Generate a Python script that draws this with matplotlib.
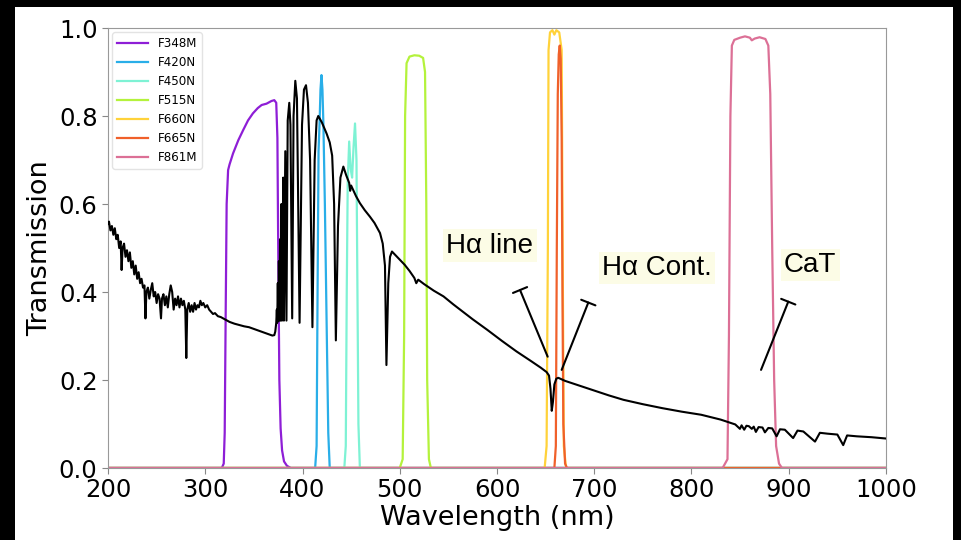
import matplotlib.pyplot as plt
from matplotlib.patches import Rectangle

# espectro (preto), em trechos
uv_wl = [200, 201, 202.5, 204, 205.5, 207, 208.5, 210, 211.5, 213, 214, 215, 216.5, 218, 219.5, 221,
         222.5, 224, 225.5, 227, 228.5, 230, 231.5, 233, 234.5, 236, 237.5, 238.5, 239.5, 241, 242.5,
         244, 245.5, 247, 248.5, 250, 251.5, 253, 254.5, 255.5, 257, 258.5, 260, 261.5, 263, 264.5,
         266, 267.5, 269, 270.5, 272, 273.5, 275, 276.5, 278, 279.5, 280.5, 281.5, 283, 284.5, 286,
         287.5, 289, 290.5, 292, 293.5, 295, 296.5, 298, 300, 302, 304, 306, 308, 310, 313, 316, 320,
         325, 330, 335, 340, 345, 350, 355, 360, 365, 369, 371]
uv_t = [0.555, 0.56, 0.54, 0.55, 0.53, 0.545, 0.52, 0.53, 0.5, 0.515, 0.45, 0.5, 0.51, 0.48, 0.495, 0.47,
        0.49, 0.455, 0.47, 0.44, 0.46, 0.43, 0.445, 0.42, 0.43, 0.41, 0.415, 0.34, 0.4, 0.41, 0.385,
        0.405, 0.42, 0.39, 0.4, 0.375, 0.395, 0.385, 0.34, 0.385, 0.395, 0.37, 0.39, 0.365, 0.395, 0.415,
        0.40, 0.36, 0.385, 0.37, 0.39, 0.365, 0.385, 0.37, 0.38, 0.36, 0.25, 0.36, 0.375, 0.355, 0.37,
        0.355, 0.375, 0.36, 0.37, 0.365, 0.38, 0.37, 0.375, 0.365, 0.37, 0.36, 0.355, 0.35, 0.352, 0.345, 0.343, 0.338,
        0.332, 0.328, 0.325, 0.322, 0.32, 0.316, 0.312, 0.308, 0.304, 0.301, 0.302]

balmer_wl = [372, 373, 373.6, 374, 374.6, 375.1, 375.7, 376.2, 376.9, 377.4, 378.3, 378.9, 380.2, 380.9,
             382.3, 383.5, 384.8, 386.4, 387.6, 389.4, 390.8, 392.6, 394.3, 397.0, 399.5, 401.5, 403.6,
             405.6, 407.8, 410.2, 412.5, 414.5, 416.2, 420, 424.8, 428, 430.5, 432.5, 434.3, 436.5, 439,
             442, 445, 448, 449, 450, 455, 459, 464, 469.4, 474, 479.7, 482.5, 484.8, 486.3, 488.2, 490]
balmer_t = [0.31, 0.33, 0.36, 0.33, 0.42, 0.335, 0.47, 0.335, 0.52, 0.335, 0.6, 0.335, 0.66, 0.335,
            0.72, 0.335, 0.79, 0.83, 0.78, 0.34, 0.8, 0.88, 0.84, 0.33, 0.78, 0.86, 0.87,
            0.83, 0.7, 0.32, 0.7, 0.79, 0.80, 0.785, 0.76, 0.74, 0.71, 0.6, 0.29, 0.55, 0.66,
            0.685, 0.665, 0.648, 0.63, 0.642, 0.618, 0.602, 0.586, 0.571, 0.557, 0.534, 0.51, 0.46, 0.234, 0.42, 0.48]

vis_wl = [492, 495, 500, 505, 510, 515, 517, 519, 525, 535, 545, 555, 565, 575, 590, 605, 620, 635, 645,
          651, 653.5, 655, 656.3, 657.5, 659, 661, 663, 670, 685, 700, 715, 730, 750, 770, 790, 810, 830]
vis_t = [0.492, 0.485, 0.473, 0.462, 0.448, 0.432, 0.42, 0.428, 0.418, 0.403, 0.39, 0.372, 0.355, 0.338, 0.314, 0.289, 0.265, 0.243, 0.228,
         0.218, 0.21, 0.18, 0.13, 0.15, 0.19, 0.203, 0.205, 0.198, 0.187, 0.176, 0.165, 0.155, 0.145, 0.136, 0.128, 0.121, 0.11]

ir_wl = [845, 849.8, 851.5, 854.2, 856.5, 859, 862, 864, 866.2, 869, 873, 875.5, 879, 883, 887.5,
         891, 896, 904.5, 909, 915, 927, 932, 940, 950, 956, 960, 970, 985, 1000]
ir_t = [0.099, 0.089, 0.097, 0.087, 0.096, 0.095, 0.089, 0.094, 0.082, 0.093, 0.092, 0.081, 0.091, 0.09, 0.072,
        0.088, 0.087, 0.068, 0.085, 0.083, 0.06, 0.08, 0.078, 0.076, 0.052, 0.074, 0.072, 0.07, 0.067]

spec_wl = uv_wl + balmer_wl + vis_wl + ir_wl
spec_t = uv_t + balmer_t + vis_t + ir_t

# filtros
filtros = ['F348M', 'F420N', 'F450N', 'F515N', 'F660N', 'F665N', 'F861M']
cores = ['#8E1ED6', '#29AEE8', '#7EF2D4', '#B4F23C', '#FFD23A', '#F0602A', '#DC7096']

f348_wl = [200, 317, 319, 320, 321, 322, 323.5, 325, 328.6, 334, 339, 344, 349, 354, 358, 363, 368, 371,
           373, 374.2, 375.2, 376.2, 377.5, 379, 381, 384, 388, 1000]
f348_t = [0, 0, 0.01, 0.08, 0.35, 0.6, 0.677, 0.69, 0.715, 0.745, 0.768, 0.79, 0.806, 0.818, 0.825, 0.828,
          0.834, 0.836, 0.83, 0.75, 0.45, 0.2, 0.09, 0.04, 0.015, 0.005, 0, 0]
f420_wl = [200, 413, 414.5, 415.5, 416.5, 417.5, 418.5, 419.5, 420.5, 421.5, 423, 425, 426.5, 428, 1000]
f420_t = [0, 0, 0.05, 0.4, 0.72, 0.78, 0.86, 0.893, 0.86, 0.78, 0.6, 0.3, 0.08, 0, 0]
f450_wl = [200, 443, 444.5, 445.5, 446.5, 448, 449.5, 451, 452.5, 454, 455.5, 456.5, 457.5, 459, 1000]
f450_t = [0, 0, 0.05, 0.4, 0.65, 0.742, 0.68, 0.66, 0.73, 0.783, 0.7, 0.4, 0.1, 0, 0]
f515_wl = [200, 500, 503, 504.5, 505.5, 507, 510, 515, 520, 524, 526, 527.3, 528.2, 530, 532, 1000]
f515_t = [0, 0, 0.02, 0.3, 0.8, 0.92, 0.935, 0.938, 0.937, 0.932, 0.9, 0.6, 0.2, 0.02, 0, 0]
f660_wl = [200, 649, 651, 652.3, 653, 654.5, 657, 659, 661, 664, 666.5, 667.5, 668.7, 671, 1000]
f660_t = [0, 0, 0.05, 0.5, 0.95, 0.99, 0.995, 0.985, 0.995, 0.99, 0.95, 0.5, 0.05, 0, 0]
f665_wl = [200, 659, 660.5, 661.5, 662.5, 663.5, 664.5, 665.5, 666.5, 667.3, 668.2, 670, 672, 1000]
f665_t = [0, 0, 0.05, 0.5, 0.85, 0.94, 0.96, 0.93, 0.75, 0.4, 0.1, 0.01, 0, 0]
f861_wl = [200, 832, 837, 838.5, 840, 841.5, 844, 850, 855, 860, 862, 865, 870, 876, 879, 881, 883, 885,
           887, 890, 893, 1000]
f861_t = [0, 0, 0.02, 0.3, 0.8, 0.96, 0.973, 0.978, 0.981, 0.978, 0.972, 0.976, 0.979, 0.975, 0.96, 0.85,
          0.5, 0.2, 0.05, 0.01, 0, 0]

filtros_wl = [f348_wl, f420_wl, f450_wl, f515_wl, f660_wl, f665_wl, f861_wl]
filtros_t = [f348_t, f420_t, f450_t, f515_t, f660_t, f665_t, f861_t]

# anotacoes: texto, posicao do texto, ponta da linha, ponto no espectro
notas = ['Hα line', 'Hα Cont.', 'CaT']
notas_txt = [(592.6, 0.505), (764.5, 0.4545), (921.9, 0.461)]
notas_barra = [(623.7, 0.4045), (693.9, 0.376), (899.5, 0.378)]
notas_ponto = [(652.1, 0.253), (666.5, 0.223), (871.5, 0.223)]

fig = plt.figure(figsize=(9.62, 5.4), dpi=100, facecolor='black')
fig.add_artist(Rectangle((15 / 962, 0), 938 / 962, 533 / 540, transform=fig.transFigure,
                         facecolor='white', edgecolor='none', zorder=-1))
ax = fig.add_axes([108 / 962, 72 / 540, 778 / 962, 440 / 540])

for nome, cor, wl, t in zip(filtros, cores, filtros_wl, filtros_t):
    ax.plot(wl, t, color=cor, lw=1.6, label=nome)

ax.plot(spec_wl, spec_t, color='black', lw=1.5, zorder=5)

for txt, pt, bar, pto in zip(notas, notas_txt, notas_barra, notas_ponto):
    ax.text(pt[0], pt[1], txt, fontsize=20, family='Liberation Sans', ha='center', va='center',
            bbox=dict(boxstyle='square,pad=0.12', facecolor='#FCFCE6', edgecolor='none'), zorder=6)
    ax.annotate('', xy=bar, xytext=pto,
                arrowprops=dict(arrowstyle='-[, widthB=0.55, lengthB=0', color='black', lw=1.5,
                                shrinkA=0, shrinkB=0, mutation_scale=10), zorder=6)

ax.set_xlim(200, 1000)
ax.set_ylim(0, 1.0)
ax.set_xticks(range(200, 1001, 100))
ax.set_yticks([0.0, 0.2, 0.4, 0.6, 0.8, 1.0])
ax.tick_params(labelsize=17.5, color='#888888', length=4)
for s in ax.spines.values():
    s.set_color('#999999')
ax.set_xlabel('Wavelength (nm)', fontsize=19.5, labelpad=2)
ax.set_ylabel('Transmission', fontsize=19.5, labelpad=4)

leg = ax.legend(loc='upper left', fontsize=8.6, handlelength=2.6, labelspacing=0.5,
                borderaxespad=0.35, frameon=True)
leg.get_frame().set_edgecolor('#dddddd')

plt.savefig('out.png', dpi=100, facecolor='black')
